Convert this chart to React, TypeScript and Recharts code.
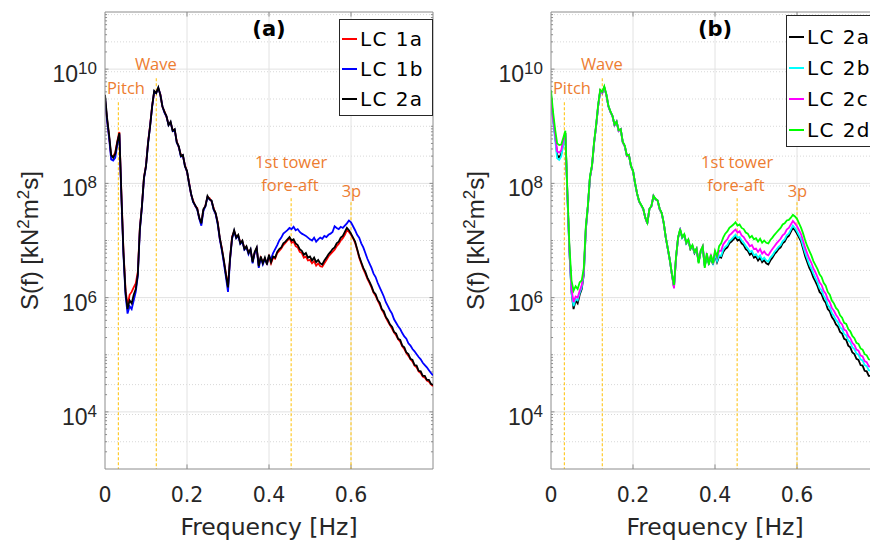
import React from 'react';
import {
  LineChart,
  Line,
  XAxis,
  YAxis,
  CartesianGrid,
  ReferenceLine,
  ReferenceDot,
  Legend
} from 'recharts';

const FONT = '"DejaVu Sans", sans-serif';
const ARIAL = '"Liberation Sans", Arial, sans-serif';
const NOTE_FONT = '"Open Sans", sans-serif';
const STEP = 0.005; // spectral resolution, Hz

// log10 S(f), one value every 0.005 Hz from 0 to 0.8 Hz
const lc1aLog = [
  9.48, 9.12, 8.82, 8.48, 8.47, 8.54, 8.74, 8.90, 7.82, 6.82,
  6.15, 5.85, 6.05, 6.10, 6.18, 6.25, 6.45, 7.22, 7.60, 8.10,
  8.32, 8.72, 9.02, 9.36, 9.60, 9.60, 9.66, 9.56, 9.34, 9.26,
  9.16, 9.04, 9.06, 8.94, 8.93, 8.74, 8.63, 8.50, 8.48, 8.32,
  8.20, 8.02, 7.80, 7.70, 7.60, 7.57, 7.38, 7.32, 7.53, 7.62,
  7.76, 7.74, 7.68, 7.57, 7.46, 7.32, 7.03, 6.87, 6.63, 6.42,
  6.20, 6.68, 7.07, 7.16, 7.07, 7.08, 6.97, 6.98, 6.87, 6.88,
  6.80, 6.83, 6.64, 6.78, 6.86, 6.57, 6.70, 6.62, 6.68, 6.60,
  6.72, 6.60, 6.70, 6.68, 6.78, 6.82, 6.86, 6.92, 6.96, 7.00,
  7.04, 6.96, 6.98, 6.90, 6.88, 6.80, 6.78, 6.70, 6.72, 6.65,
  6.66, 6.60, 6.64, 6.56, 6.60, 6.55, 6.54, 6.60, 6.66, 6.72,
  6.76, 6.80, 6.84, 6.90, 6.94, 7.00, 7.04, 7.10, 7.18, 7.15,
  7.10, 7.04, 6.96, 6.84, 6.70, 6.60, 6.50, 6.42, 6.33, 6.26,
  6.18, 6.09, 6.03, 5.95, 5.88, 5.79, 5.73, 5.65, 5.58, 5.52,
  5.46, 5.39, 5.34, 5.27, 5.23, 5.15, 5.10, 5.03, 4.98, 4.92,
  4.88, 4.81, 4.78, 4.71, 4.68, 4.62, 4.60, 4.55, 4.53, 4.48, 4.45
];

const lc1bLog = [
  9.50, 9.10, 8.80, 8.42, 8.40, 8.45, 8.68, 8.86, 7.76, 6.75,
  6.05, 5.72, 5.85, 5.80, 5.95, 6.10, 6.38, 7.18, 7.58, 8.08,
  8.30, 8.70, 9.00, 9.34, 9.61, 9.58, 9.67, 9.55, 9.35, 9.24,
  9.17, 9.02, 9.07, 8.92, 8.94, 8.71, 8.64, 8.47, 8.49, 8.30,
  8.21, 8.00, 7.81, 7.67, 7.61, 7.54, 7.38, 7.26, 7.52, 7.60,
  7.76, 7.72, 7.69, 7.54, 7.46, 7.28, 7.02, 6.83, 6.60, 6.36,
  6.10, 6.66, 7.03, 7.16, 7.04, 7.08, 6.94, 6.98, 6.84, 6.88,
  6.76, 6.84, 6.60, 6.78, 6.86, 6.52, 6.70, 6.58, 6.68, 6.60,
  6.72, 6.68, 6.78, 6.85, 6.92, 7.00, 7.05, 7.12, 7.15, 7.18,
  7.22, 7.20, 7.24, 7.18, 7.20, 7.15, 7.12, 7.10, 7.08, 7.05,
  7.02, 7.00, 7.05, 6.98, 7.02, 7.05, 7.03, 7.08, 7.06, 7.10,
  7.12, 7.15, 7.25, 7.22, 7.20, 7.24, 7.22, 7.26, 7.30, 7.35,
  7.32, 7.25, 7.18, 7.10, 7.05, 6.95, 6.88, 6.78, 6.68, 6.60,
  6.52, 6.42, 6.36, 6.26, 6.18, 6.10, 6.02, 5.92, 5.85, 5.78,
  5.72, 5.62, 5.56, 5.50, 5.45, 5.38, 5.32, 5.28, 5.20, 5.16,
  5.10, 5.06, 5.01, 4.96, 4.92, 4.86, 4.82, 4.78, 4.73, 4.68, 4.64
];

const lc2aLog = [
  9.55, 9.15, 8.85, 8.50, 8.45, 8.52, 8.72, 8.88, 7.80, 6.80,
  6.10, 5.80, 5.95, 5.90, 6.05, 6.15, 6.40, 7.20, 7.60, 8.10,
  8.30, 8.70, 9.00, 9.35, 9.62, 9.58, 9.68, 9.55, 9.35, 9.25,
  9.18, 9.02, 9.08, 8.92, 8.95, 8.72, 8.65, 8.48, 8.50, 8.30,
  8.22, 8.00, 7.82, 7.68, 7.62, 7.55, 7.40, 7.30, 7.55, 7.60,
  7.78, 7.72, 7.70, 7.55, 7.48, 7.30, 7.05, 6.85, 6.65, 6.40,
  6.18, 6.70, 7.05, 7.18, 7.05, 7.10, 6.95, 7.00, 6.85, 6.90,
  6.78, 6.85, 6.62, 6.80, 6.88, 6.55, 6.72, 6.60, 6.70, 6.58,
  6.75, 6.62, 6.72, 6.70, 6.80, 6.85, 6.88, 6.95, 6.98, 7.02,
  7.06, 7.00, 7.02, 6.95, 6.92, 6.85, 6.82, 6.75, 6.78, 6.70,
  6.72, 6.65, 6.70, 6.62, 6.66, 6.60, 6.58, 6.65, 6.70, 6.76,
  6.80, 6.85, 6.88, 6.95, 6.98, 7.05, 7.08, 7.15, 7.22, 7.18,
  7.12, 7.05, 6.98, 6.85, 6.72, 6.62, 6.52, 6.45, 6.35, 6.28,
  6.20, 6.10, 6.06, 5.96, 5.91, 5.80, 5.76, 5.66, 5.61, 5.53,
  5.49, 5.40, 5.37, 5.28, 5.26, 5.16, 5.13, 5.04, 5.01, 4.93,
  4.91, 4.82, 4.81, 4.72, 4.71, 4.63, 4.63, 4.56, 4.56, 4.49, 4.47
];

const lc2bLog = [
  9.40, 9.08, 8.78, 8.44, 8.41, 8.47, 8.68, 8.85, 7.78, 6.78,
  6.08, 5.85, 5.98, 5.95, 6.08, 6.18, 6.42, 7.20, 7.60, 8.10,
  8.30, 8.70, 9.00, 9.35, 9.61, 9.58, 9.67, 9.55, 9.35, 9.25,
  9.18, 9.02, 9.08, 8.92, 8.95, 8.72, 8.65, 8.48, 8.50, 8.30,
  8.22, 8.00, 7.82, 7.68, 7.62, 7.55, 7.40, 7.30, 7.55, 7.60,
  7.78, 7.72, 7.70, 7.55, 7.48, 7.30, 7.05, 6.85, 6.65, 6.40,
  6.20, 6.70, 7.05, 7.18, 7.05, 7.10, 6.95, 7.00, 6.86, 6.90,
  6.79, 6.85, 6.63, 6.80, 6.88, 6.56, 6.73, 6.61, 6.71, 6.60,
  6.76, 6.64, 6.74, 6.73, 6.84, 6.89, 6.92, 6.99, 7.02, 7.06,
  7.10, 7.05, 7.06, 7.00, 6.96, 6.90, 6.86, 6.80, 6.82, 6.74,
  6.76, 6.70, 6.74, 6.66, 6.70, 6.65, 6.63, 6.70, 6.74, 6.80,
  6.84, 6.89, 6.92, 6.99, 7.02, 7.09, 7.12, 7.19, 7.26, 7.22,
  7.16, 7.09, 7.02, 6.90, 6.78, 6.68, 6.58, 6.51, 6.42, 6.34,
  6.27, 6.17, 6.13, 6.03, 5.98, 5.87, 5.83, 5.73, 5.68, 5.61,
  5.57, 5.48, 5.45, 5.36, 5.34, 5.25, 5.22, 5.13, 5.10, 5.02,
  5.00, 4.92, 4.90, 4.82, 4.80, 4.73, 4.72, 4.66, 4.65, 4.59, 4.57
];

const lc2cLog = [
  9.45, 9.12, 8.85, 8.56, 8.54, 8.58, 8.75, 8.88, 7.80, 6.82,
  6.15, 5.92, 6.02, 6.00, 6.12, 6.22, 6.45, 7.22, 7.60, 8.10,
  8.30, 8.70, 9.00, 9.35, 9.62, 9.58, 9.68, 9.55, 9.35, 9.25,
  9.18, 9.02, 9.08, 8.92, 8.95, 8.72, 8.65, 8.48, 8.50, 8.30,
  8.22, 8.00, 7.82, 7.68, 7.62, 7.55, 7.40, 7.30, 7.55, 7.60,
  7.78, 7.72, 7.70, 7.55, 7.48, 7.30, 7.05, 6.85, 6.65, 6.40,
  6.16, 6.70, 7.05, 7.18, 7.06, 7.10, 6.96, 7.01, 6.86, 6.91,
  6.80, 6.86, 6.64, 6.82, 6.90, 6.58, 6.75, 6.64, 6.74, 6.63,
  6.80, 6.70, 6.82, 6.82, 6.93, 6.98, 7.02, 7.09, 7.12, 7.16,
  7.19, 7.14, 7.16, 7.09, 7.06, 7.00, 6.96, 6.90, 6.92, 6.85,
  6.86, 6.80, 6.85, 6.77, 6.81, 6.76, 6.74, 6.80, 6.85, 6.90,
  6.95, 6.99, 7.03, 7.09, 7.12, 7.19, 7.22, 7.28, 7.34, 7.30,
  7.25, 7.18, 7.11, 6.99, 6.87, 6.77, 6.68, 6.61, 6.51, 6.44,
  6.36, 6.27, 6.22, 6.12, 6.07, 5.97, 5.92, 5.82, 5.77, 5.70,
  5.65, 5.57, 5.53, 5.44, 5.42, 5.33, 5.29, 5.21, 5.17, 5.09,
  5.07, 4.99, 4.97, 4.89, 4.87, 4.80, 4.79, 4.73, 4.72, 4.66, 4.63
];

const lc2dLog = [
  9.63, 9.25, 8.95, 8.70, 8.67, 8.68, 8.80, 8.92, 7.85, 6.90,
  6.30, 6.12, 6.20, 6.15, 6.27, 6.30, 6.52, 7.25, 7.62, 8.12,
  8.32, 8.72, 9.02, 9.38, 9.64, 9.60, 9.70, 9.56, 9.36, 9.26,
  9.18, 9.03, 9.08, 8.93, 8.95, 8.73, 8.66, 8.49, 8.50, 8.31,
  8.22, 8.01, 7.82, 7.69, 7.62, 7.56, 7.40, 7.31, 7.55, 7.61,
  7.78, 7.73, 7.70, 7.56, 7.48, 7.31, 7.05, 6.86, 6.65, 6.41,
  6.22, 6.72, 7.06, 7.20, 7.06, 7.11, 6.96, 7.02, 6.86, 6.92,
  6.80, 6.86, 6.60, 6.82, 6.90, 6.52, 6.78, 6.58, 6.75, 6.60,
  6.82, 6.72, 6.90, 6.95, 7.05, 7.12, 7.16, 7.22, 7.25, 7.28,
  7.32, 7.26, 7.28, 7.22, 7.20, 7.14, 7.12, 7.05, 7.08, 7.02,
  7.04, 6.98, 7.03, 6.96, 7.00, 6.96, 6.95, 7.01, 7.05, 7.10,
  7.14, 7.18, 7.22, 7.28, 7.30, 7.35, 7.36, 7.40, 7.45, 7.42,
  7.38, 7.30, 7.22, 7.12, 7.00, 6.90, 6.82, 6.74, 6.64, 6.57,
  6.50, 6.41, 6.36, 6.26, 6.21, 6.10, 6.05, 5.95, 5.90, 5.82,
  5.78, 5.69, 5.65, 5.56, 5.54, 5.45, 5.41, 5.33, 5.29, 5.21,
  5.19, 5.11, 5.09, 5.01, 4.99, 4.92, 4.91, 4.85, 4.84, 4.78, 4.75
];

// axis ticks
const xTicks = [0, 0.2, 0.4, 0.6];
const yTicks = [1e4, 1e6, 1e8, 1e10];

// modal frequencies marked with dashed lines (Hz) and where each line starts (log10)
const markerFreq = [0.0325, 0.125, 0.454, 0.6];
const markerTopLog = [9.42, 9.84, 7.74, 7.67];

// orange annotations
const noteText = ['Pitch', 'Wave', '1st tower', 'fore-aft', '3p'];
const noteFreq = [0.051, 0.124, 0.454, 0.451, 0.601];
const noteLog = [9.67, 10.1, 8.39, 7.98, 7.87];

const minorY: number[] = [];
for (let k = 3; k <= 10; k++) {
  for (let m = 1; m <= 9; m++) {
    if (m === 1 && (k % 2 === 0 || k === 3)) continue;
    minorY.push(m * 10 ** k);
  }
}

const freq = lc2aLog.map((_, i) => +(i * STEP).toFixed(3));
const rows = freq.map((f, i) => ({
  f,
  lc1a: 10 ** lc1aLog[i],
  lc1b: 10 ** lc1bLog[i],
  lc2a: 10 ** lc2aLog[i],
  lc2b: 10 ** lc2bLog[i],
  lc2c: 10 ** lc2cLog[i],
  lc2d: 10 ** lc2dLog[i]
}));

interface Series {
  key: string;
  name: string;
  color: string;
}

const seriesA: Series[] = [
  { key: 'lc1a', name: 'LC 1a', color: '#ff0000' },
  { key: 'lc1b', name: 'LC 1b', color: '#0000ff' },
  { key: 'lc2a', name: 'LC 2a', color: '#000000' }
];
const seriesB: Series[] = [
  { key: 'lc2a', name: 'LC 2a', color: '#000000' },
  { key: 'lc2b', name: 'LC 2b', color: '#00ffff' },
  { key: 'lc2c', name: 'LC 2c', color: '#ff00ff' },
  { key: 'lc2d', name: 'LC 2d', color: '#00ff00' }
];

const AXIS = '#8c8c8c';
const TEXT = '#262626';
const ORANGE = '#ed7d31';
const GOLD = '#ffc000';

const XTick = (props: any) => {
  const { x, y, payload } = props;
  return (
    <text x={x} y={y + 33} textAnchor='middle' fill={TEXT} fontFamily={FONT} fontSize={20.5}>
      {payload.value}
    </text>
  );
};

const YTick = (props: any) => {
  const { x, y, payload } = props;
  const exp = Math.round(Math.log10(payload.value));
  return (
    <text x={x - 8} y={y + 13} textAnchor='end' fill={TEXT} fontFamily={ARIAL} fontSize={23}>
      10
      <tspan fontSize={17} dy={-8}>
        {exp}
      </tspan>
    </text>
  );
};

const YLabel = (props: any) => {
  const { viewBox } = props;
  const cx = viewBox.x + 38;
  const cy = viewBox.y + viewBox.height / 2;
  return (
    <text
      x={cx}
      y={cy}
      textAnchor='middle'
      transform={`rotate(-90 ${cx} ${cy})`}
      fill={TEXT}
      fontFamily={ARIAL}
      fontSize={24}
    >
      S(f) [kN
      <tspan fontSize={17} dy={-9}>2</tspan>
      <tspan dy={9}>m</tspan>
      <tspan fontSize={17} dy={-9}>2</tspan>
      <tspan dy={9}>s]</tspan>
    </text>
  );
};

const XLabel = (props: any) => {
  const { viewBox } = props;
  return (
    <text
      x={viewBox.x + viewBox.width / 2}
      y={viewBox.y + 66}
      textAnchor='middle'
      fill={TEXT}
      fontFamily={FONT}
      fontSize={23.5}
    >
      Frequency [Hz]
    </text>
  );
};

const Note = (props: any) => {
  const { viewBox, text, bold } = props;
  return (
    <text
      x={viewBox.x + viewBox.width / 2}
      y={viewBox.y + viewBox.height / 2}
      textAnchor='middle'
      dominantBaseline='central'
      fill={bold ? '#000' : ORANGE}
      fontFamily={bold ? FONT : NOTE_FONT}
      fontWeight={bold ? 700 : 400}
      fontSize={bold ? 21 : 16.5}
    >
      {text}
    </text>
  );
};

const LegendBox = ({ items, rowH, padTop }: { items: Series[]; rowH: number; padTop: number }) => (
  <div
    style={{
      width: 92,
      border: '1px solid #262626',
      background: '#fff',
      paddingTop: padTop,
      paddingBottom: 1,
      fontFamily: FONT
    }}
  >
    {items.map((s) => (
      <div key={s.key} style={{ height: rowH, display: 'flex', alignItems: 'center' }}>
        <div style={{ marginLeft: 2, width: 15, height: 2, background: s.color, flex: 'none' }} />
        <span style={{ marginLeft: 3, fontSize: 20, letterSpacing: 1.4, color: '#000', lineHeight: 1 }}>
          {s.name}
        </span>
      </div>
    ))}
  </div>
);

interface PanelProps {
  left: number;
  title: string;
  series: Series[];
  legendLeft: number;
  legendTop: number;
  rowH: number;
  padTop: number;
}

const Panel: React.FC<PanelProps> = ({ left, title, series, legendLeft, legendTop, rowH, padTop }) => {
  const majorLen = 0.0085;
  const minorLen = 0.005;
  const yMarks = [
    ...yTicks.map((v) => ({ v, len: majorLen })),
    ...minorY.map((v) => ({ v, len: minorLen }))
  ];
  const xMark = 10 ** 0.08;
  return (
    <div style={{ position: 'absolute', left, top: 0 }}>
      <LineChart width={440} height={543} data={rows} margin={{ top: 12, right: 7, bottom: 0, left: 0 }}>
        <CartesianGrid vertical={false} horizontalValues={minorY} stroke='#d8d8d8' strokeDasharray='1 2' />
        <CartesianGrid horizontalValues={yTicks} verticalValues={[0.2, 0.4, 0.6]} stroke='#e2e2e2' />
        <XAxis
          dataKey='f'
          type='number'
          domain={[0, 0.8]}
          ticks={xTicks}
          allowDataOverflow
          height={74}
          stroke={AXIS}
          tickLine={false}
          tickSize={0}
          tickMargin={0}
          tick={<XTick />}
          label={<XLabel />}
        />
        <YAxis
          type='number'
          scale='log'
          domain={[1e3, 1e11]}
          ticks={yTicks}
          allowDataOverflow
          width={105}
          stroke={AXIS}
          tickLine={false}
          tickSize={0}
          tickMargin={0}
          tick={<YTick />}
          label={<YLabel />}
        />
        <ReferenceLine y={1e11} stroke={AXIS} />
        <ReferenceLine x={0.8} stroke={AXIS} />
        {yMarks.map((m, i) => (
          <ReferenceLine
            key={`l${i}`}
            segment={[{ x: 0, y: m.v }, { x: m.len, y: m.v }]}
            stroke={AXIS}
          />
        ))}
        {yMarks.map((m, i) => (
          <ReferenceLine
            key={`r${i}`}
            segment={[{ x: 0.8 - m.len, y: m.v }, { x: 0.8, y: m.v }]}
            stroke={AXIS}
          />
        ))}
        {xTicks.slice(1).map((t) => (
          <ReferenceLine key={`b${t}`} segment={[{ x: t, y: 1e3 }, { x: t, y: 1e3 * xMark }]} stroke={AXIS} />
        ))}
        {xTicks.slice(1).map((t) => (
          <ReferenceLine key={`t${t}`} segment={[{ x: t, y: 1e11 / xMark }, { x: t, y: 1e11 }]} stroke={AXIS} />
        ))}
        {markerFreq.map((f, i) => (
          <ReferenceLine
            key={`m${i}`}
            segment={[{ x: f, y: 10 ** markerTopLog[i] }, { x: f, y: 1e3 }]}
            stroke={GOLD}
            strokeDasharray='3 2'
          />
        ))}
        {series.map((s) => (
          <Line
            key={s.key}
            type='linear'
            dataKey={s.key}
            name={s.name}
            stroke={s.color}
            strokeWidth={1.8}
            dot={false}
            isAnimationActive={false}
          />
        ))}
        {noteText.map((t, i) => (
          <ReferenceDot
            key={`n${i}`}
            x={noteFreq[i]}
            y={10 ** noteLog[i]}
            r={0}
            fill='none'
            stroke='none'
            label={<Note text={t} />}
          />
        ))}
        <ReferenceDot x={0.4} y={10 ** 10.7} r={0} fill='none' stroke='none' label={<Note text={title} bold />} />
        <Legend
          layout='horizontal'
          verticalAlign='middle'
          align='center'
          wrapperStyle={{ left: legendLeft, top: legendTop, width: 'auto', height: 'auto' }}
          content={() => <LegendBox items={series} rowH={rowH} padTop={padTop} />}
        />
      </LineChart>
    </div>
  );
};

export default function App() {
  return (
    <div
      style={{
        position: 'absolute',
        left: 0,
        top: 0,
        width: 870,
        height: 543,
        overflow: 'hidden',
        background: '#fff'
      }}
    >
      <Panel left={0} title='(a)' series={seriesA} legendLeft={339} legendTop={19} rowH={30} padTop={4} />
      <Panel left={446} title='(b)' series={seriesB} legendLeft={340} legendTop={15} rowH={31} padTop={5} />
    </div>
  );
}
